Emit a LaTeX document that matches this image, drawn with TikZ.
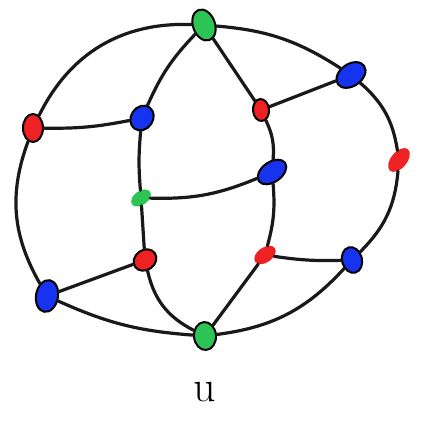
\documentclass[tikz,border=0pt]{standalone}
\usetikzlibrary{shapes.geometric}
\definecolor{dotred}{RGB}{238,34,34}
\definecolor{dotblue}{RGB}{22,52,240}
\definecolor{dotgreen}{RGB}{44,196,84}
\tikzset{
  vtx/.style={ellipse, inner sep=0pt, minimum width=25pt, minimum height=17pt, rotate=35},
  ringed/.style={draw=black, line width=2pt},
  edge/.style={line width=3.2pt, line cap=round, black!90}
}
\begin{document}
\begin{tikzpicture}[x=1pt, y=1pt]
\useasboundingbox [fill=white] (0,0) rectangle (425,420);
\node (gT) at (204,395) [vtx, ringed, fill=dotgreen, minimum width=32pt, minimum height=22pt, rotate=75] {};
\node (bTR) at (351,345) [vtx, ringed, fill=dotblue, minimum width=32pt, minimum height=22pt] {};
\node (rL) at (33,292) [vtx, ringed, fill=dotred, minimum width=28pt, minimum height=20pt, rotate=55] {};
\node (bL) at (142,302) [vtx, ringed, fill=dotblue, minimum width=26pt, minimum height=22pt, rotate=20] {};
\node (rC) at (261,310) [vtx, ringed, fill=dotred, minimum width=22pt, minimum height=16pt, rotate=60] {};
\node (rR) at (399,260) [vtx, fill=dotred, minimum width=28pt, minimum height=16pt, rotate=15] {};
\node (bC) at (272,248) [vtx, ringed, fill=dotblue, minimum width=32pt, minimum height=20pt] {};
\node (gC) at (141,222) [vtx, fill=dotgreen, minimum width=22pt, minimum height=14pt] {};
\node (rB) at (145,160) [vtx, ringed, fill=dotred, minimum width=24pt, minimum height=20pt] {};
\node (rBB) at (265,165) [vtx, fill=dotred, minimum width=24pt, minimum height=15pt] {};
\node (bR) at (352,160) [vtx, ringed, fill=dotblue, minimum width=26pt, minimum height=20pt, rotate=70] {};
\node (bBL) at (47,124) [vtx, ringed, fill=dotblue, minimum width=32pt, minimum height=22pt, rotate=45] {};
\node (gB) at (205,84) [vtx, ringed, fill=dotgreen, minimum width=28pt, minimum height=22pt, rotate=60] {};
\node (lbl) at (205,28) [font=\fontsize{44}{44}\selectfont] {u};
\draw [edge] (gT) to[bend right=33] (rL);
\draw [edge] (gT) to[bend left=14] (bTR);
\draw [edge] (gT) -- (rC);
\draw [edge] (gT) to[bend right=10] (bL);
\draw [edge] (bL) to[bend right=5] (gC);
\draw [edge] (gC) -- (rB);
\draw [edge] (rL) to[bend right=6] (bL);
\draw [edge] (rL) to[bend right=25] (bBL);
\draw [edge] (rC) -- (bTR);
\draw [edge] (rC) to[bend left=15] (bC);
\draw [edge] (bTR) to[bend left=20] (rR);
\draw [edge] (rR) to[bend left=20] (bR);
\draw [edge] (bC) to[bend left=12] (gC);
\draw [edge] (bC) to[bend left=10] (rBB);
\draw [edge] (rBB) to[bend right=5] (bR);
\draw [edge] (rBB) -- (gB);
\draw [edge] (rB) -- (bBL);
\draw [edge] (rB) to[bend right=25] (gB);
\draw [edge] (bBL) to[bend right=10] (gB);
\draw [edge] (bR) to[bend left=20] (gB);
\end{tikzpicture}
\end{document}
